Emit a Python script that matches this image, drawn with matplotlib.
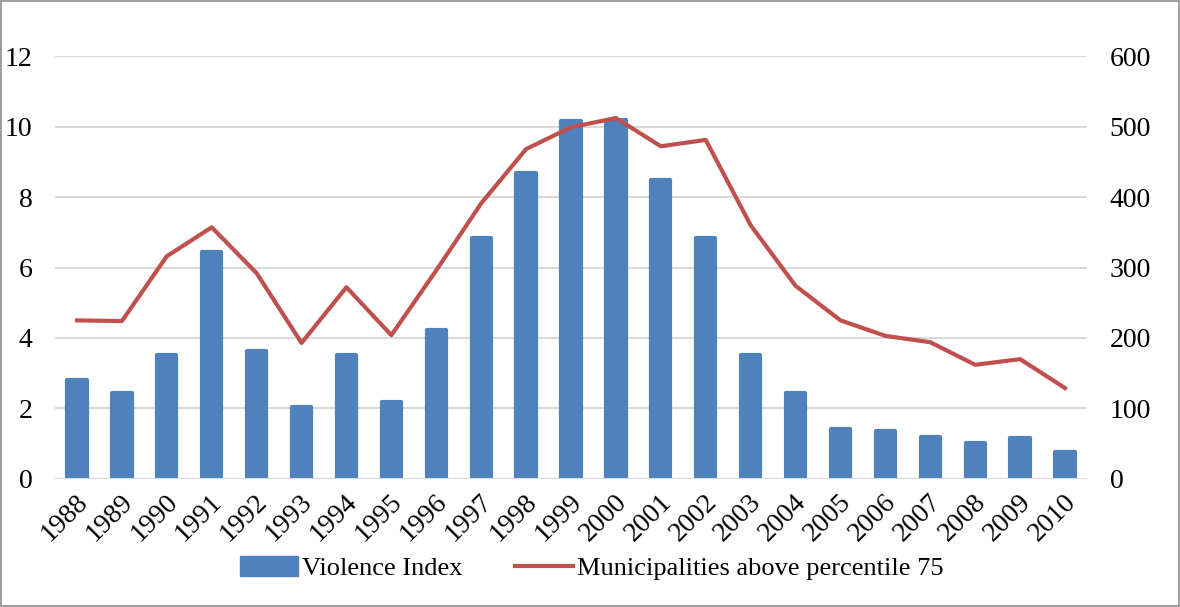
import matplotlib
matplotlib.use("Agg")
import matplotlib.pyplot as plt
import matplotlib.transforms as mtransforms
from matplotlib.patches import Rectangle, Patch
from matplotlib.lines import Line2D

years = ["1988", "1989", "1990", "1991", "1992", "1993", "1994", "1995", "1996", "1997",
         "1998", "1999", "2000", "2001", "2002", "2003", "2004", "2005", "2006", "2007",
         "2008", "2009", "2010"]
violence_index = [2.81, 2.44, 3.52, 6.44, 3.63, 2.04, 3.52, 2.18, 4.23, 6.84,
                  8.68, 10.16, 10.18, 8.48, 6.84, 3.52, 2.44, 1.42, 1.36, 1.19,
                  1.02, 1.16, 0.77]
municipalities = [225, 224, 316, 357, 292, 193, 272, 204, 296, 391,
                  468, 499, 512, 472, 481, 360, 274, 225, 203, 194,
                  162, 170, 129]

plt.rcParams['font.family'] = ['Liberation Serif', 'DejaVu Serif']

BAR = "#4F81BD"
LINE = "#C0504D"
GRID = "#D9D9D9"

fig = plt.figure(figsize=(11.8, 6.07), dpi=100)
ax = fig.add_axes([0.0462, 0.2109, 0.8754, 0.6968])
ax2 = ax.twinx()

x = list(range(len(years)))
ax.bar(x, violence_index, width=0.43, color=BAR, edgecolor=BAR, linewidth=3.0,
       joinstyle='round', zorder=2)
ax.axhline(0, color=GRID, lw=1.5, zorder=3)

ax.set_xlim(-0.5, len(years) - 0.5)
ax.set_ylim(0, 12)
ax.set_yticks([0, 2, 4, 6, 8, 10, 12])
ax.yaxis.grid(True, color=GRID, lw=1.5, zorder=0)
ax.set_axisbelow(True)
ax.set_xticks(x)
ax.set_xticklabels(years, rotation=45, ha='right', va='center', rotation_mode='anchor')
ax.tick_params(axis='y', length=0, labelsize=20, pad=16)
ax.tick_params(axis='x', length=0, labelsize=20, pad=14)
offset = mtransforms.ScaledTranslation(7 / 100, 0, fig.dpi_scale_trans)
for lab in ax.get_xticklabels():
    lab.set_transform(lab.get_transform() + offset)

ax2.plot(x, municipalities, color=LINE, lw=3.0, zorder=4)
ax2.set_ylim(0, 600)
ax2.set_yticks([0, 100, 200, 300, 400, 500, 600])
ax2.tick_params(axis='y', length=0, labelsize=20, pad=16)

for a in (ax, ax2):
    for s in a.spines.values():
        s.set_visible(False)

handles = [Patch(facecolor=BAR, edgecolor=BAR, label="Violence Index"),
           Line2D([0], [0], color=LINE, lw=3.0, label="Municipalities above percentile 75")]
fig.legend(handles=handles, loc='center', bbox_to_anchor=(0.5013, 0.064), ncol=2,
           frameon=False, fontsize=19, handlelength=2.2, handleheight=0.75,
           columnspacing=2.0, handletextpad=0.15)

fig.patches.append(Rectangle((0.001, 0.002), 0.998, 0.996, transform=fig.transFigure,
                             fill=False, edgecolor="#8C8C8C", lw=1.2))

fig.savefig("out.png", dpi=100)
